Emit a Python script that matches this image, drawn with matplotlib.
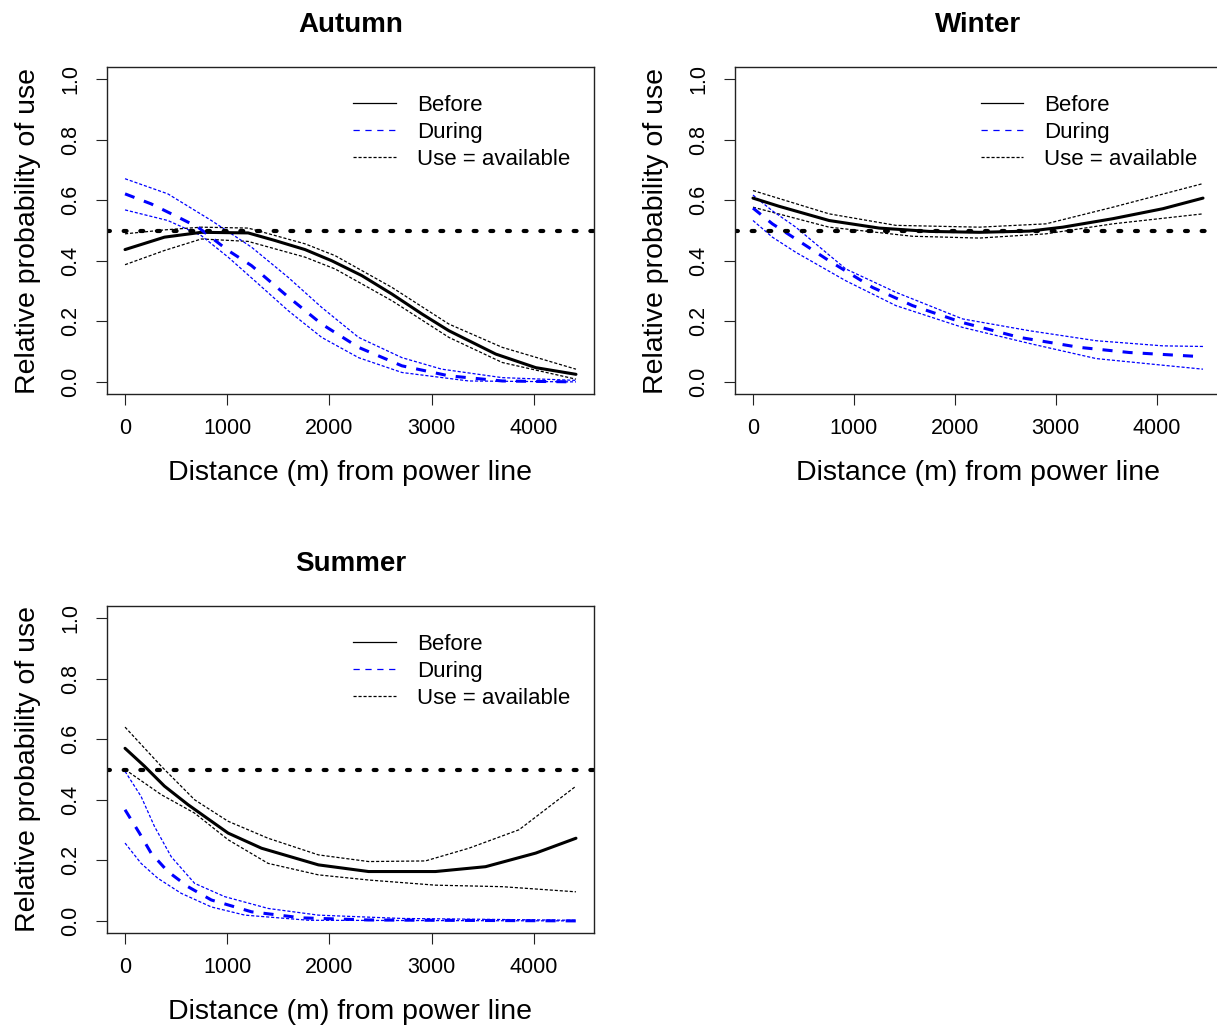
import numpy as np
import matplotlib
matplotlib.use("Agg")
import matplotlib.pyplot as plt
from matplotlib.lines import Line2D

plt.rcParams['font.family'] = ['Liberation Sans', 'DejaVu Sans']

# ---- data (distance in m, relative probability) ----
# Autumn
aut_before_x = [0, 386, 747, 1205, 1467, 1762, 2024, 2318, 2613, 2908, 3170, 3628, 4021, 4414]
aut_before_y = [0.437, 0.478, 0.494, 0.492, 0.467, 0.437, 0.40, 0.351, 0.29, 0.224, 0.169, 0.092, 0.047, 0.025]
aut_before_up_x = [0, 386, 747, 1205, 1762, 2056, 2613, 3170, 3693, 4414]
aut_before_up_y = [0.489, 0.502, 0.511, 0.508, 0.456, 0.417, 0.312, 0.191, 0.114, 0.042]
aut_before_lo_x = [0, 386, 747, 1205, 1762, 2056, 2613, 3170, 3693, 4414]
aut_before_lo_y = [0.387, 0.434, 0.472, 0.464, 0.412, 0.373, 0.268, 0.147, 0.064, 0.009]
aut_during_x = [0, 255, 484, 714, 1009, 1238, 1582, 1925, 2286, 2711, 3170, 3693, 4414]
aut_during_y = [0.621, 0.588, 0.55, 0.511, 0.434, 0.384, 0.285, 0.191, 0.114, 0.053, 0.02, 0.003, 0.0]
aut_during_up_x = [0, 419, 845, 1238, 1598, 1925, 2286, 2711, 3100, 3693, 4414]
aut_during_up_y = [0.671, 0.621, 0.533, 0.445, 0.345, 0.246, 0.147, 0.08, 0.042, 0.014, 0.005]
aut_during_lo_x = [0, 419, 747, 1009, 1303, 1598, 1925, 2286, 2711, 3366, 4414]
aut_during_lo_y = [0.568, 0.533, 0.483, 0.412, 0.324, 0.235, 0.147, 0.08, 0.031, 0.003, 0.0]

# Winter
win_before_x = [0, 258, 754, 1250, 1746, 2242, 2738, 3069, 3565, 4061, 4458]
win_before_y = [0.607, 0.58, 0.533, 0.508, 0.497, 0.494, 0.498, 0.511, 0.539, 0.572, 0.607]
win_before_up_x = [0, 754, 1415, 2242, 2903, 3565, 4458]
win_before_up_y = [0.632, 0.555, 0.517, 0.511, 0.522, 0.577, 0.655]
win_before_lo_x = [0, 754, 1580, 2242, 2903, 3565, 4458]
win_before_lo_y = [0.577, 0.511, 0.481, 0.475, 0.489, 0.522, 0.555]
win_during_x = [0, 192, 424, 754, 1184, 1580, 2076, 2639, 3234, 3730, 4458]
win_during_y = [0.574, 0.522, 0.472, 0.40, 0.312, 0.252, 0.196, 0.147, 0.114, 0.097, 0.083]
win_during_up_x = [0, 192, 424, 919, 1415, 2076, 2738, 3399, 4061, 4458]
win_during_up_y = [0.617, 0.565, 0.511, 0.373, 0.296, 0.208, 0.169, 0.136, 0.119, 0.117]
win_during_lo_x = [0, 192, 424, 919, 1415, 2076, 2738, 3399, 4061, 4458]
win_during_lo_y = [0.533, 0.478, 0.428, 0.334, 0.252, 0.18, 0.127, 0.077, 0.055, 0.042]

# Summer
sum_before_x = [0, 190, 386, 616, 1009, 1336, 1893, 2384, 3038, 3529, 4021, 4414]
sum_before_y = [0.57, 0.511, 0.445, 0.384, 0.29, 0.24, 0.185, 0.163, 0.163, 0.179, 0.224, 0.273]
sum_before_up_x = [0, 354, 681, 1009, 1400, 1893, 2384, 2940, 3366, 3857, 4414]
sum_before_up_y = [0.64, 0.511, 0.40, 0.329, 0.273, 0.218, 0.196, 0.198, 0.24, 0.301, 0.445]
sum_before_lo_x = [0, 354, 681, 1009, 1400, 1893, 2384, 3038, 3693, 4414]
sum_before_lo_y = [0.50, 0.417, 0.356, 0.268, 0.19, 0.152, 0.135, 0.118, 0.113, 0.096]
sum_during_x = [0, 141, 255, 419, 616, 845, 1238, 1729, 2384, 4414]
sum_during_y = [0.367, 0.29, 0.224, 0.163, 0.113, 0.069, 0.03, 0.01, 0.003, 0.0]
sum_during_up_x = [0, 157, 288, 452, 681, 976, 1402, 1893, 2711, 4414]
sum_during_up_y = [0.494, 0.411, 0.312, 0.212, 0.124, 0.08, 0.041, 0.019, 0.008, 0.002]
sum_during_lo_x = [0, 157, 320, 550, 845, 1173, 1800, 4414]
sum_during_lo_y = [0.257, 0.19, 0.141, 0.091, 0.046, 0.019, 0.002, 0.0]

xticks = [0, 1000, 2000, 3000, 4000]
yticks = [0.0, 0.2, 0.4, 0.6, 0.8, 1.0]
legend_labels = ["Before", "During", "Use = available"]

W, H = 1217, 1032
fig = plt.figure(figsize=(W / 100, H / 100), dpi=100)

def px_axes(left, top, right, bottom):
    return fig.add_axes([left / W, 1 - bottom / H, (right - left) / W, (bottom - top) / H])

ci_dash = (2.5, 1.5)

def panel(ax, title, bx, by, bux, buy, blx, bly, dx, dy, dux, duy, dlx, dly):
    ax.plot(bux, buy, color='black', lw=0.9, dashes=ci_dash)
    ax.plot(blx, bly, color='black', lw=0.9, dashes=ci_dash)
    ax.plot(dux, duy, color='blue', lw=0.9, dashes=ci_dash)
    ax.plot(dlx, dly, color='blue', lw=0.9, dashes=ci_dash)
    ax.plot(bx, by, color='black', lw=2.2, solid_capstyle='round')
    ax.plot(dx, dy, color='blue', lw=2.2, dashes=(3.3, 3.3))
    ax.axhline(0.5, color='black', lw=3, dashes=(0.7, 3.3), dash_capstyle='round')

    xmax = max(bx[-1], dx[-1])
    ax.set_xlim(-0.04 * xmax, 1.04 * xmax)
    ax.set_ylim(-0.04, 1.04)
    ax.set_xticks(xticks)
    ax.set_yticks(yticks)
    ax.set_yticklabels([f"{v:.1f}" for v in yticks], rotation=90, va='center')
    ax.tick_params(axis='both', length=8, width=0.8, labelsize=15.5, color='#222222')
    ax.tick_params(axis='x', pad=9.5)
    ax.tick_params(axis='y', pad=10.5)
    for s in ax.spines.values():
        s.set_linewidth(1.0)
        s.set_color('#222222')

    ax.set_xlabel("Distance (m) from power line", fontsize=20.5)
    ax.set_ylabel("Relative probability of use", fontsize=20.5)
    ax.xaxis.set_label_coords(0.5, -0.202)
    ax.yaxis.set_label_coords(-0.135, 0.5)
    ax.set_title(title, fontsize=20, fontweight='bold', pad=25)

    handles = [Line2D([], [], color='black', lw=0.9),
               Line2D([], [], color='blue', lw=0.9, dashes=(5, 4.5)),
               Line2D([], [], color='black', lw=0.9, dashes=ci_dash)]
    ax.legend(handles, legend_labels, loc='upper left', bbox_to_anchor=(0.506, 0.914),
              frameon=False, fontsize=16, handlelength=1.9, handletextpad=0.95,
              labelspacing=0.26, borderaxespad=0, borderpad=0)

ax1 = px_axes(107, 67, 594, 394)
panel(ax1, "Autumn", aut_before_x, aut_before_y, aut_before_up_x, aut_before_up_y,
      aut_before_lo_x, aut_before_lo_y, aut_during_x, aut_during_y,
      aut_during_up_x, aut_during_up_y, aut_during_lo_x, aut_during_lo_y)

ax2 = px_axes(735, 67, 1221, 394)
panel(ax2, "Winter", win_before_x, win_before_y, win_before_up_x, win_before_up_y,
      win_before_lo_x, win_before_lo_y, win_during_x, win_during_y,
      win_during_up_x, win_during_up_y, win_during_lo_x, win_during_lo_y)

ax3 = px_axes(107, 606, 594, 933)
panel(ax3, "Summer", sum_before_x, sum_before_y, sum_before_up_x, sum_before_up_y,
      sum_before_lo_x, sum_before_lo_y, sum_during_x, sum_during_y,
      sum_during_up_x, sum_during_up_y, sum_during_lo_x, sum_during_lo_y)

fig.savefig("out.png", dpi=100)
